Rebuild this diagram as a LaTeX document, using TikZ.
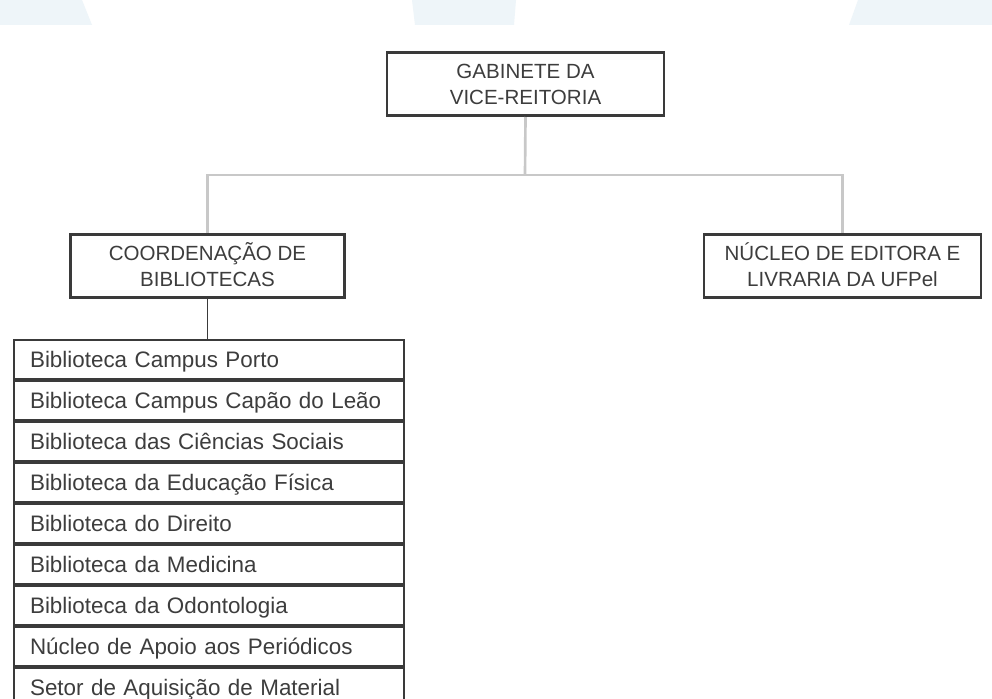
\documentclass[tikz,border=0pt]{standalone}
\usepackage{fontspec}
\setmainfont{Liberation Sans}
\definecolor{bgblue}{HTML}{EEF5F9}
\definecolor{boxc}{HTML}{3A3A3A}
\definecolor{txtc}{HTML}{3D3D3D}
\definecolor{lineg}{HTML}{C8C8C8}
\newcommand\hstrut{\rule[-4.125pt]{0pt}{19.5pt}}
\tikzset{
  hbox/.style={draw=boxc, line width=2pt, fill=white, minimum height=47.5pt,
    inner sep=0pt, align=center, text=txtc,
    font=\fontsize{15.4pt}{19.5pt}\selectfont},
  rowbox/.style={draw=boxc, line width=1.6pt, fill=white, anchor=north west,
    minimum height=29.25pt, inner xsep=12pt, inner ysep=0pt,
    text width=268.5pt, align=left, text height=15pt, text depth=3.75pt,
    text=txtc, font=\fontsize{16.8pt}{19pt}\selectfont},
  gline/.style={draw=lineg, line width=2pt},
  dline/.style={draw=boxc, line width=1pt}
}
\begin{document}
\begin{tikzpicture}[x=0.75pt,y=-0.75pt]
\useasboundingbox (0,0) rectangle (992,699);
\clip (0,0) rectangle (992,699);
\fill[white] (0,0) rectangle (992,699);
% faint background shapes
\fill[bgblue] (0,0) -- (82,0) -- (92,25) -- (0,25) -- cycle;
\fill[bgblue] (412,0) -- (516,0) -- (514,25) -- (415,25) -- cycle;
\fill[bgblue] (858,0) -- (992,0) -- (992,25) -- (849,25) -- cycle;
% top level boxes
\node[hbox, minimum width=207.75pt] (gab) at (525.5,84) {\hstrut GABINETE DA\\\hstrut VICE-REITORIA};
\node[hbox, minimum width=205.75pt] (coord) at (207.5,266) {\hstrut COORDENAÇÃO DE\\\hstrut BIBLIOTECAS};
\node[hbox, minimum width=207.75pt] (nucleo) at (842.5,266) {\hstrut NÚCLEO DE EDITORA E\\\hstrut LIVRARIA DA UFPel};
\coordinate (j) at (525,175);
% rows
\foreach \t [count=\i from 0] in {Biblioteca Campus Porto,
  Biblioteca Campus Capão do Leão,
  Biblioteca das Ciências Sociais,
  Biblioteca da Educação Física,
  Biblioteca do Direito,
  Biblioteca da Medicina,
  Biblioteca da Odontologia,
  Núcleo de Apoio aos Periódicos,
  Setor de Aquisição de Material}{
  \node[rowbox] (r\i) at (13,{339+41*\i}) {\t};
}
% connectors
\draw[gline] (gab.south) -- (j);
\draw[gline] (coord.north) |- (j) -| (nucleo.north);
\draw[dline] (coord.south) -- (coord.south |- r0.north);
\end{tikzpicture}
\end{document}
